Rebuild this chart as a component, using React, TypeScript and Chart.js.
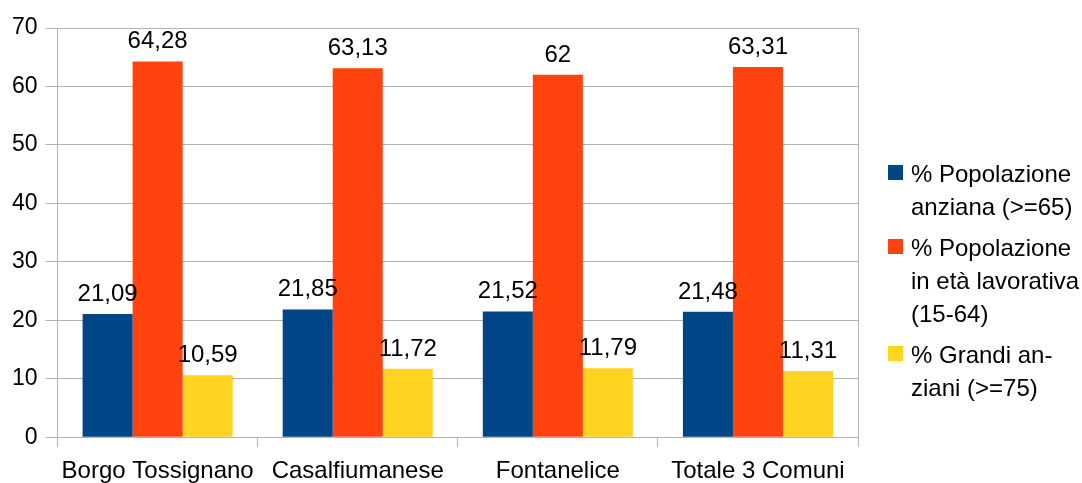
import React, { useEffect, useRef } from "react";
import { Chart, registerables } from "chart.js";

Chart.register(...registerables);

const categories = ["Borgo Tossignano", "Casalfiumanese", "Fontanelice", "Totale 3 Comuni"];
const anziana = [21.09, 21.85, 21.52, 21.48];
const lavorativa = [64.28, 63.13, 62, 63.31];
const grandiAnziani = [10.59, 11.72, 11.79, 11.31];
const seriesNames = ["% Popolazione anziana (>=65)", "% Popolazione in età lavorativa (15-64)", "% Grandi anziani (>=75)"];
const legendLines = [
  ["% Popolazione", "anziana (>=65)"],
  ["% Popolazione", "in età lavorativa", "(15-64)"],
  ["% Grandi an-", "ziani (>=75)"],
];
const colors = ["#004586", "#ff420e", "#ffd320"];
const FONT = "'Liberation Sans', Arial, sans-serif";
const GRID = "#b3b3b3";

const fmt = (v: number) => String(v).replace(".", ",");

const valueLabels = {
  id: "valueLabels",
  afterDatasetsDraw(chart: any) {
    const ctx = chart.ctx;
    ctx.save();
    ctx.font = `24px ${FONT}`;
    ctx.fillStyle = "#000";
    ctx.textAlign = "center";
    ctx.textBaseline = "alphabetic";
    chart.data.datasets.forEach((ds: any, i: number) => {
      const meta = chart.getDatasetMeta(i);
      meta.data.forEach((el: any, j: number) => {
        ctx.fillText(fmt(ds.data[j]), el.x, el.y - 13);
      });
    });
    ctx.restore();
  },
};

const frameAndLegend = {
  id: "frameAndLegend",
  afterDraw(chart: any) {
    const ctx = chart.ctx;
    const a = chart.chartArea;
    ctx.save();
    ctx.strokeStyle = GRID;
    ctx.lineWidth = 1;
    ctx.beginPath();
    ctx.moveTo(Math.round(a.right) + 0.5, a.top);
    ctx.lineTo(Math.round(a.right) + 0.5, a.bottom);
    ctx.stroke();

    ctx.font = `24px ${FONT}`;
    ctx.textAlign = "left";
    ctx.textBaseline = "middle";
    const x0 = 888;
    const lineH = 33;
    const groupGap = 41;
    let y = 175;
    legendLines.forEach((lines, i) => {
      ctx.fillStyle = colors[i];
      ctx.fillRect(x0, y - 10, 15, 15);
      ctx.fillStyle = "#000";
      lines.forEach((t, k) => {
        ctx.fillText(t, x0 + 23, y + k * lineH);
      });
      y += (lines.length - 1) * lineH + groupGap;
    });
    ctx.restore();
  },
};

export default function App() {
  const ref = useRef<HTMLCanvasElement | null>(null);
  useEffect(() => {
    if (!ref.current) return;
    const chart = new Chart(ref.current, {
      type: "bar",
      data: {
        labels: categories,
        datasets: [
          { label: seriesNames[0], data: anziana, backgroundColor: colors[0] },
          { label: seriesNames[1], data: lavorativa, backgroundColor: colors[1] },
          { label: seriesNames[2], data: grandiAnziani, backgroundColor: colors[2] },
        ],
      },
      options: {
        animation: false,
        responsive: true,
        maintainAspectRatio: false,
        layout: { padding: { top: 28, left: 4, right: 224, bottom: 0 } },
        plugins: { legend: { display: false }, tooltip: { enabled: false } },
        datasets: { bar: { categoryPercentage: 0.75, barPercentage: 1 } },
        scales: {
          x: {
            grid: { offset: true, drawOnChartArea: false, drawTicks: true, tickLength: 10, color: GRID },
            border: { color: GRID },
            ticks: { color: "#000", font: { family: FONT, size: 24 }, padding: 10, maxRotation: 0, autoSkip: false },
          },
          y: {
            min: 0,
            max: 70,
            ticks: { stepSize: 10, color: "#000", font: { family: FONT, size: 23 }, padding: 8 },
            grid: { color: GRID, tickLength: 12 },
            border: { color: GRID },
          },
        },
      },
      plugins: [valueLabels, frameAndLegend],
    });
    return () => chart.destroy();
  }, []);
  return (
    <div style={{ position: "fixed", left: 0, top: 0, width: 1082, height: 496, background: "#fff" }}>
      <canvas ref={ref} />
    </div>
  );
}
